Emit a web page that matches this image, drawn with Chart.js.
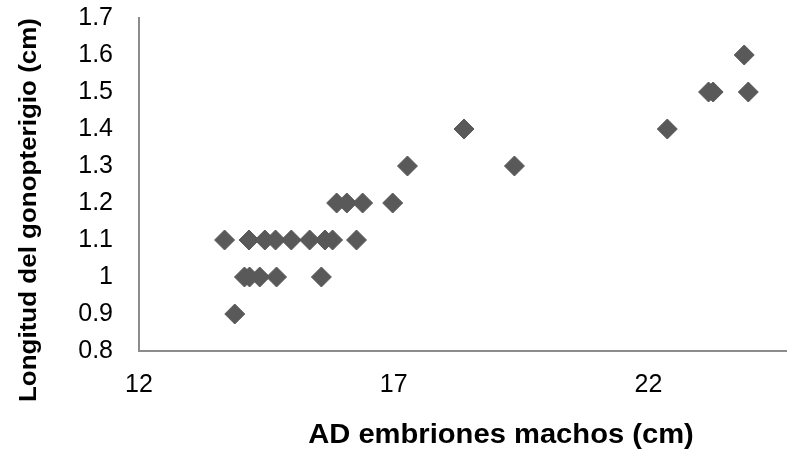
<!DOCTYPE html>
<html>
<head>
<meta charset="utf-8">
<script src="https://cdn.jsdelivr.net/npm/chart.js@4"></script>
<style>
  html, body { margin: 0; padding: 0; background: #fff; }
  #wrap { width: 787px; height: 452px; }
</style>
</head>
<body>
<div id="wrap"><canvas id="scatterChart" width="787" height="452"></canvas></div>
<script>
// data
const adEmbriones = [13.68, 14.16, 14.47, 14.68, 14.99, 15.35, 15.65, 15.80, 16.27,
                     14.07, 14.17, 14.37, 14.70, 15.58,
                     13.88,
                     15.88, 16.08, 16.39, 16.98,
                     17.27, 19.37,
                     18.38, 22.37,
                     23.18, 23.27, 23.96,
                     23.88];
const longitudGonopterigio = [1.1, 1.1, 1.1, 1.1, 1.1, 1.1, 1.1, 1.1, 1.1,
                              1.0, 1.0, 1.0, 1.0, 1.0,
                              0.9,
                              1.2, 1.2, 1.2, 1.2,
                              1.3, 1.3,
                              1.4, 1.4,
                              1.5, 1.5, 1.5,
                              1.6];
const xTicks = [12, 17, 22];
const xTitle = 'AD embriones machos (cm)';
const yTitle = 'Longitud del gonopterigio (cm)';

const points = adEmbriones.map((x, i) => ({ x: x, y: longitudGonopterigio[i] }));

// axis titles drawn by hand so they sit where the original has them
const axisTitles = {
    id: 'axisTitles',
    afterDraw(chart) {
        const c = chart.ctx;
        c.save();
        c.fillStyle = '#000';
        c.textAlign = 'center';
        c.textBaseline = 'middle';
        c.save();
        c.translate(501, 436);
        c.font = 'bold 27px "Liberation Sans", Arial, sans-serif';
        c.scale(1.08, 1);
        c.fillText(xTitle, 0, 0);
        c.restore();
        c.save();
        c.translate(30, 210);
        c.rotate(-Math.PI / 2);
        c.font = 'bold 23px "Liberation Sans", Arial, sans-serif';
        c.scale(1.13, 1);
        c.fillText(yTitle, 0, 0);
        c.restore();
        c.restore();
    }
};

const ctx = document.getElementById('scatterChart').getContext('2d');
const chart = new Chart(ctx, {
    type: 'scatter',
    data: {
        datasets: [{
            data: points,
            pointStyle: 'rectRot',
            pointRadius: 10,
            pointHoverRadius: 10,
            backgroundColor: '#595959',
            borderColor: '#595959',
            borderWidth: 1
        }]
    },
    options: {
        responsive: false,
        animation: false,
        layout: { autoPadding: false, padding: { top: 18, right: 0, left: 0, bottom: 0 } },
        plugins: { legend: { display: false }, tooltip: { enabled: false } },
        scales: {
            x: {
                type: 'linear',
                min: 12,
                max: 24.72,
                afterBuildTicks: (axis) => { axis.ticks = xTicks.map(v => ({ value: v })); },
                afterFit: (axis) => {
                    axis.height = 101;
                    axis.paddingLeft = 0;
                    axis.paddingRight = 0;
                },
                grid: { display: false, drawTicks: false },
                border: { display: true, color: '#8c8c8c', width: 2 },
                ticks: {
                    color: '#000',
                    padding: 19,
                    maxRotation: 0,
                    font: { family: '"Liberation Sans", Arial, sans-serif', size: 25 }
                }
            },
            y: {
                type: 'linear',
                min: 0.8,
                max: 1.7,
                afterFit: (axis) => {
                    axis.width = 139;
                    axis.paddingTop = 0;
                    axis.paddingBottom = 0;
                },
                grid: { display: false, drawTicks: false },
                border: { display: true, color: '#8c8c8c', width: 2 },
                ticks: {
                    stepSize: 0.1,
                    color: '#000',
                    padding: 26,
                    callback: (v) => String(+v.toFixed(1)),
                    font: { family: '"Liberation Sans", Arial, sans-serif', size: 25 }
                }
            }
        }
    },
    plugins: [axisTitles]
});
</script>
</body>
</html>
